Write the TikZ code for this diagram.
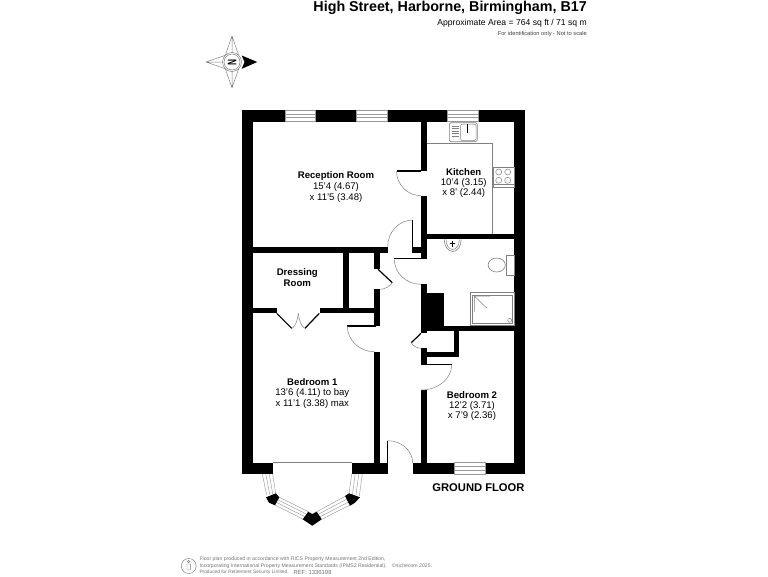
\documentclass[tikz,border=0pt]{standalone}
\usepackage{fontspec}
\setmainfont{Liberation Sans}
\usetikzlibrary{arrows,positioning,calc}

\definecolor{fixturegrey}{gray}{0.5}
\definecolor{finegrey}{gray}{0.45}
\tikzset{
	wall/.style={fill=black,draw=none},
	thinline/.style={draw=fixturegrey,line width=0.5pt},
	windowline/.style={draw=fixturegrey!80,line width=0.45pt},
	fixture/.style={draw=fixturegrey,line width=0.6pt,fill=white},
	leaf/.style={draw=black,line width=1.2pt},
	roomname/.style={font=\fontsize{9.6}{10.5}\selectfont\bfseries,align=center,inner sep=0pt},
	roomsize/.style={font=\fontsize{9.6}{10.5}\selectfont,align=center,inner sep=0pt},
	finetext/.style={text=finegrey,font=\fontsize{5.15}{6.6}\selectfont,inner sep=0pt,anchor=west}
}
\newcommand{\swingarc}[3]{\draw[thinline] (#1) .. controls ($(#1)!0.552!(#2)$) and ($(#3)!0.552!(#2)$) .. (#3);}
\newcommand{\wallbox}[4]{\fill[wall] (#1,#2) rectangle (#3,#4);}

\begin{document}
\begin{tikzpicture}[x=1pt,y=-1pt]
	\useasboundingbox (0,0) rectangle (768,576);

	\draw (587,11) node[anchor=base east,inner sep=0pt,font=\fontsize{14.3}{16}\selectfont\bfseries] (title) {High Street, Harborne, Birmingham, B17};
	\draw (587,23) node[anchor=east,inner sep=0pt,font=\fontsize{8.6}{10}\selectfont] (area) {Approximate Area = 764 sq ft / 71 sq m};
	\draw (587,34) node[anchor=east,inner sep=0pt,text=black!75,font=\fontsize{5.7}{6}\selectfont] (scale) {For identification only - Not to scale};

	% compass
	\foreach \ang in {90,180,270}{
		\draw[thinline,rotate around={\ang:(232,62)}] (258,62) -- (238.7,55.3) (258,62) -- (238.7,68.7) (258,62) -- (232,62);
	}
	\fill[black] (241.7,55.5) -- (257.3,62) -- (241.7,68.8) -- (244.5,62) -- cycle;
	\draw[thinline,fill=white] (232,62) circle (9.5);
	\draw[thinline] (232,62) circle (8);
	\draw (232,62) node[rotate=-90,inner sep=0pt,font=\fontsize{9.5}{10}\selectfont\bfseries] (north) {\scalebox{0.87}[1.3]{N}};

	% outer walls
	\wallbox{241.7}{110}{525.3}{121.7}
	\wallbox{241.7}{110}{252.7}{474}
	\wallbox{514.3}{110}{525.3}{474}
	\wallbox{241.7}{462.7}{272.7}{474}
	\wallbox{352}{462.7}{387.3}{474}
	\wallbox{412.7}{462.7}{525.3}{474}

	% inner walls
	\wallbox{421}{121.7}{426.7}{170.7}
	\wallbox{421}{195.7}{426.7}{259.3}
	\wallbox{426.7}{234}{514.3}{239.3}
	\wallbox{252.7}{246.7}{387.7}{252.7}
	\wallbox{413.3}{246.7}{421}{252.7}
	\wallbox{343.3}{252.7}{349}{310}
	\wallbox{252.7}{307.7}{276.7}{313.3}
	\wallbox{320}{307.7}{380.3}{313.3}
	\wallbox{374.3}{252.7}{380.3}{269.3}
	\wallbox{374.3}{289.3}{380.3}{326}
	\wallbox{374.3}{351.7}{380.3}{462.7}
	\wallbox{421}{284.3}{426.7}{333.3}
	\wallbox{421}{292.7}{444.3}{331}
	\wallbox{421}{325.7}{514.3}{331}
	\wallbox{421}{348.3}{426.7}{365}
	\wallbox{454}{331}{459.3}{357.3}
	\wallbox{426.7}{351.7}{459.3}{357.3}
	\wallbox{421}{390}{426.7}{462.7}

	% windows
	\foreach \xa/\xb in {285/315.7,356.3/387.3,447.7/478.7}{
		\draw[windowline,fill=white] (\xa,110) rectangle (\xb,121.7);
		\draw[windowline] (\xa,114) -- (\xb,114) (\xa,117.7) -- (\xb,117.7);
	}
	\draw[windowline,fill=white] (454,462.7) rectangle (485,474);
	\draw[windowline] (454,466.5) -- (485,466.5) (454,470.2) -- (485,470.2);
	\draw[thinline] (272.7,462.7) -- (352,462.7);

	% doors
	\draw[leaf] (421,171) -- (396.5,171);
	\swingarc{396.5,171}{396.5,195.7}{421,195.7}
	\draw[leaf] (412.7,220) -- (412.7,252.7);
	\swingarc{412.7,220}{387.7,220}{387.7,246.7}
	\draw[leaf] (425,258.7) -- (394.3,258.7);
	\swingarc{394.3,259.3}{394.3,284.3}{421,284.3}
	\draw[leaf] (378,269.3) -- (392.3,282.7);
	\swingarc{392.3,282.7}{388,289.3}{380.3,289.3}
	\draw[leaf] (376,326) -- (347.3,326);
	\swingarc{347.3,326}{347.3,351.7}{374.3,351.7}
	\draw[leaf] (421,333.3) -- (411.3,342.7);
	\swingarc{411.3,342.7}{414,348.3}{421,348.3}
	\draw[leaf] (424,364.7) -- (451.7,364.7);
	\swingarc{451.7,365}{451.7,390}{421,390}
	\draw[leaf] (387.7,440.7) -- (387.7,474);
	\swingarc{387.7,440.7}{412.7,440.7}{412.7,463}
	\draw[leaf] (276.7,313.3) -- (291.7,328.3) (319.3,313.3) -- (305,328.3);
	\swingarc{292.3,328.3}{297.5,325}{298.3,313.3}
	\swingarc{304.5,328.3}{299.1,325}{298.3,313.3}

	% bay
	\draw[windowline] (262.3,474) -- (266.7,495) (272.7,474) -- (275.7,494) (265.8,474) -- (269.7,494.5) (269.3,474) -- (272.7,494);
	\draw[windowline] (351.7,474) -- (349,494) (362.3,474) -- (359.3,496) (355.2,474) -- (352.4,495) (358.8,474) -- (355.9,495.5);
	\draw[windowline] (279.3,497.3) -- (308.3,511.7) (275,505) -- (303.3,519.3) (277.9,499.9) -- (306.6,514.2) (276.4,502.4) -- (305,516.8);
	\draw[windowline] (316.7,511.7) -- (345.7,496) (321.7,519.3) -- (350,505) (318.4,514.2) -- (347.1,499) (320,516.8) -- (348.6,502);
	\fill[wall] (266,497.3) -- (276,493.3) -- (279.3,497.3) -- (275,505.3) -- (269,502.7) -- cycle;
	\fill[wall] (345,496) -- (349,493.3) -- (360,497.3) -- (355,502.7) -- (350,505.7) -- cycle;
	\fill[wall] (308.3,511.7) -- (312.3,514) -- (316.7,511.7) -- (321.7,519.3) -- (312.3,525.7) -- (302.7,519.3) -- cycle;

	% kitchen fittings
	\draw[thinline] (426.7,143.3) -- (492.7,143.3) -- (492.7,234);
	\draw[fixture,rounded corners=1.5pt] (449.3,122.7) rectangle (477.3,141.7);
	\draw[thinline,rounded corners=1.5pt] (460.5,124) rectangle (476,140.5);
	\foreach \y in {126,128.5,131,133.5,136}
		\draw[thinline] (451.5,\y) -- (459,\y);
	\draw[draw=black,line width=0.6pt] (467.7,124) -- (467.7,133);
	\draw[fixture] (493.3,167.3) rectangle (514,187.3);
	\foreach \cx/\cy in {498.7/172,507.7/172,498.7/180.3,507.7/180.3}
		\draw[thinline] (\cx,\cy) circle (3);
	\draw[thinline] (493.3,184.3) -- (514,184.3);

	% bathroom fittings
	\draw[fixture] (444.2,239.5) arc (180:360:8.5 and -12);
	\draw[thinline] (446,239.5) arc (180:360:6.7 and -10);
	\draw[draw=black,line width=0.5pt] (452.7,241) -- (452.7,247) (450,243.5) -- (455.4,243.5);
	\draw[fixture] (506,255) rectangle (514.3,275.7);
	\draw[fixture] (496.7,265) ellipse (8.6 and 7);
	\draw[fixture] (470.3,292.3) rectangle (514.3,325.7);
	\draw[thinline] (472.7,295) rectangle (512.3,323.5);
	\draw[thinline] (474.3,296) -- (490,296) (474.3,296) -- (474.3,311.7) (474.3,296) -- (487,308.3);
	\draw[thinline] (509.7,320.3) circle (2);

	% room labels
	\draw (336,176) node[roomname] (reception) {Reception Room};
	\draw (336,192.3) node[roomsize] (receptionsize) {15'4 (4.67)\\x 11'5 (3.48)};
	\draw (463.7,171.7) node[roomname] (kitchen) {Kitchen};
	\draw (463.7,188) node[roomsize] (kitchensize) {10'4 (3.15)\\x 8' (2.44)};
	\draw (297.3,277.5) node[roomname] (dressing) {Dressing\\Room};
	\draw (312.3,382) node[roomname] (bedone) {Bedroom 1};
	\draw (312.3,398.5) node[roomsize] (bedonesize) {13'6 (4.11) to bay\\x 11'1 (3.38) max};
	\draw (472,395) node[roomname] (bedtwo) {Bedroom 2};
	\draw (472,411.2) node[roomsize] (bedtwosize) {12'2 (3.71)\\x 7'9 (2.36)};
	\draw (524.7,488) node[anchor=east,inner sep=0pt,font=\fontsize{11.2}{12}\selectfont\bfseries] (floor) {GROUND FLOOR};

	% footer
	\draw[draw=finegrey,line width=0.4pt] (188.7,566) circle (7.5);
	\draw[draw=finegrey,line width=0.4pt] (188.7,561.5) circle (1.2) (187,564) -- (187,570) -- (190.4,570) -- (190.4,564) -- cycle;
	\draw (199.3,559.3) node[finetext] (planone) {Floor plan produced in accordance with RICS Property Measurement 2nd Edition,};
	\draw (199.3,565.7) node[finetext] (plantwo) {Incorporating International Property Measurement Standards (IPMS2 Residential).};
	\draw (391.7,565.7) node[finetext] (nichecom) {\textcopyright nichecom 2025.};
	\draw (199.3,572.3) node[finetext,font=\fontsize{4.8}{6}\selectfont] (planthree) {Produced for Retirement Security Limited.};
	\draw (293.3,572.3) node[finetext,font=\fontsize{5.9}{6}\selectfont] (ref) {REF: 1336198};
\end{tikzpicture}
\end{document}
